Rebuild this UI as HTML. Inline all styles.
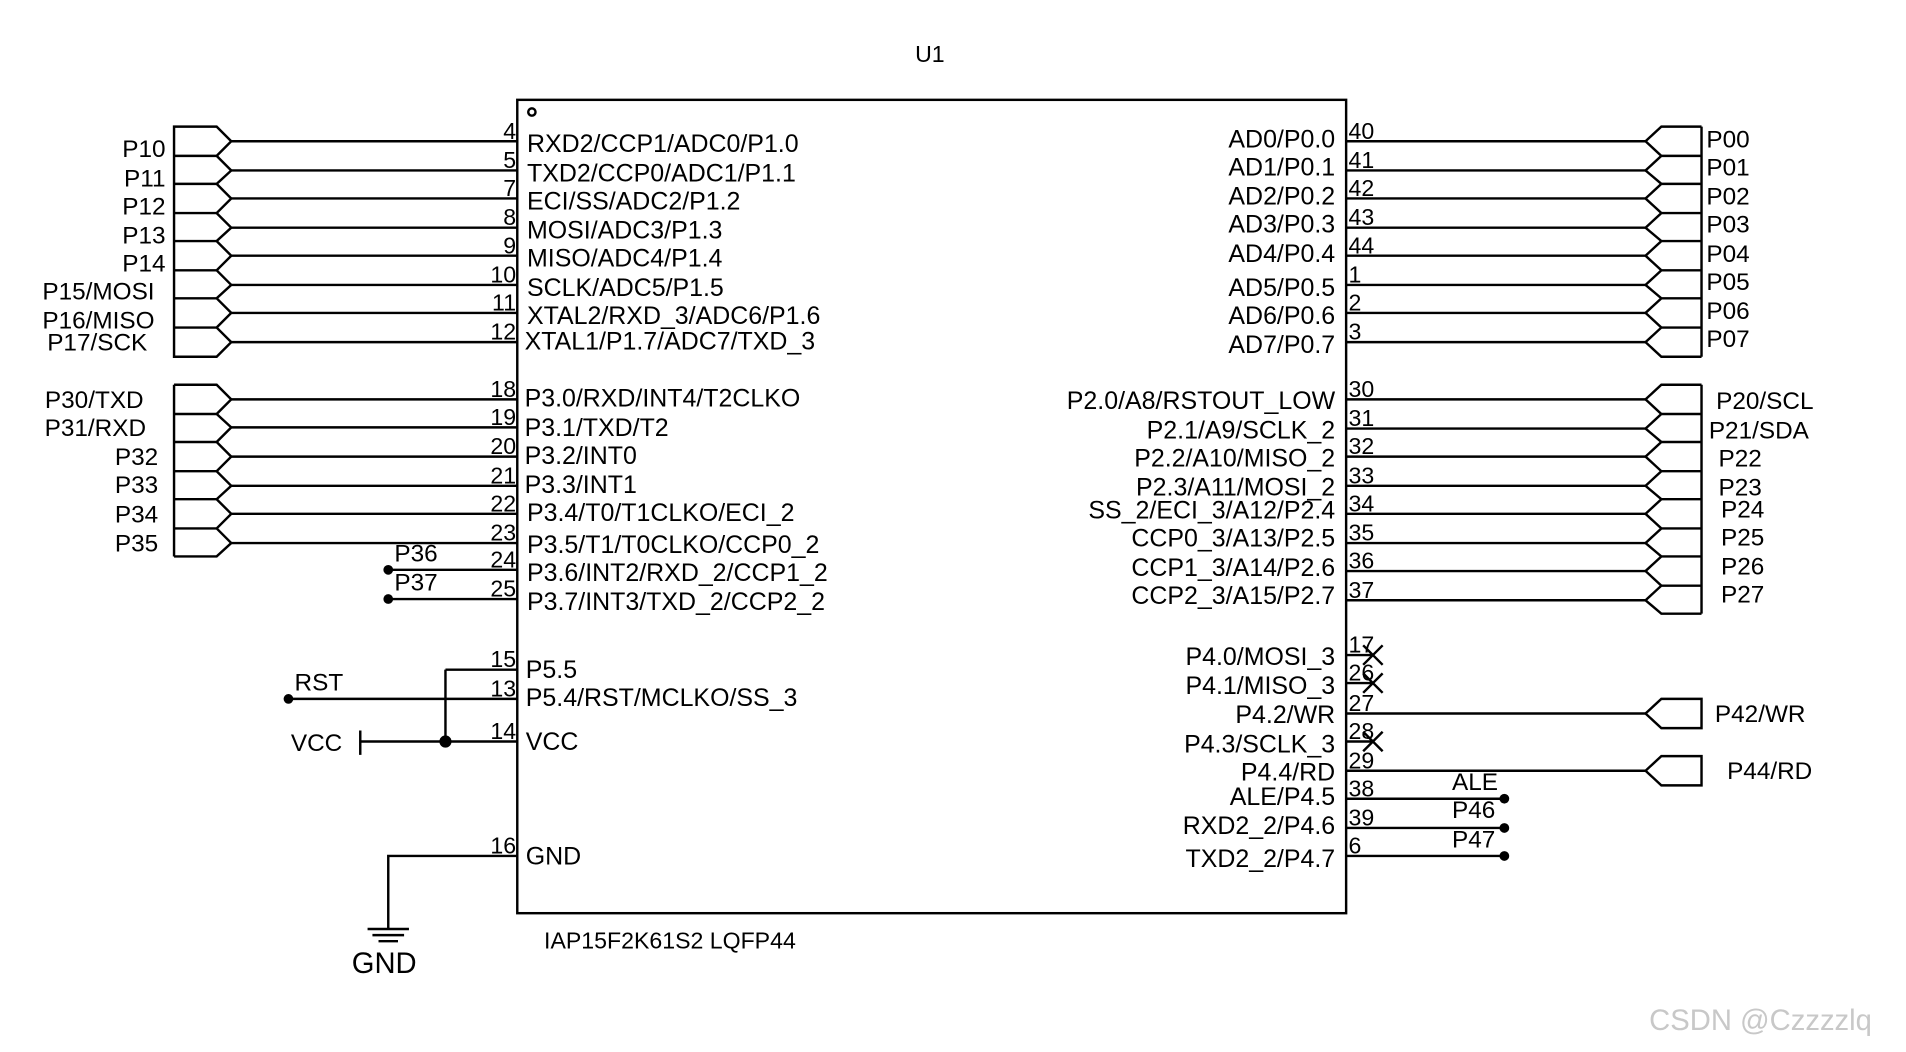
<!DOCTYPE html>
<html><head><meta charset="utf-8"><style>html,body{margin:0;padding:0;background:#fff}svg{display:block}text{font-family:"Liberation Sans",Arial,sans-serif;fill:#000}</style></head>
<body>
<svg width="1906" height="1052" viewBox="0 0 1566 864" preserveAspectRatio="none" xmlns="http://www.w3.org/2000/svg">
<g stroke="#000" stroke-width="2" fill="none">
<rect x="425" y="82" width="681" height="668"/>
<circle cx="437" cy="92" r="3"/>
<path d="M143,104 H178 L190,116 L178,128 H143 Z M143,128 H178 L190,140 L178,151 H143 M143,151 H178 L190,163 L178,175 H143 M143,175 H178 L190,187 L178,198 H143 M143,198 H178 L190,210 L178,222 H143 M143,222 H178 L190,234 L178,245 H143 M143,245 H178 L190,257 L178,269 H143 M143,269 H178 L190,281 L178,293 H143 Z M143,104 V293"/>
<path d="M190,116 H425 M190,140 H425 M190,163 H425 M190,187 H425 M190,210 H425 M190,234 H425 M190,257 H425 M190,281 H425"/>
<path d="M143,316 H178 L190,328 L178,340 H143 M143,340 H178 L190,351 L178,363 H143 M143,363 H178 L190,375 L178,387 H143 M143,387 H178 L190,399 L178,410 H143 M143,410 H178 L190,422 L178,434 H143 M143,434 H178 L190,446 L178,457 H143 M143,316 V457"/>
<path d="M190,328 H425 M190,351 H425 M190,375 H425 M190,399 H425 M190,422 H425 M190,446 H425 M319,468 H425 M319,492 H425"/>
<path d="M366,550 H425 M366,550 V609 M237,574 H425 M296,609 H425 M296,600 V620"/>
<path d="M425,703 H319 V763 M302,763 H336 M306,768 H332 M311,773 H327"/>
<path d="M1398,104 H1365 L1352,116 L1365,128 H1398 M1398,128 H1365 L1352,140 L1365,151 H1398 M1398,151 H1365 L1352,163 L1365,175 H1398 M1398,175 H1365 L1352,187 L1365,198 H1398 M1398,198 H1365 L1352,210 L1365,222 H1398 M1398,222 H1365 L1352,234 L1365,245 H1398 M1398,245 H1365 L1352,257 L1365,269 H1398 M1398,269 H1365 L1352,281 L1365,293 H1398 M1398,104 V293"/>
<path d="M1106,116 H1352 M1106,140 H1352 M1106,163 H1352 M1106,187 H1352 M1106,210 H1352 M1106,234 H1352 M1106,257 H1352 M1106,281 H1352"/>
<path d="M1398,316 H1365 L1352,328 L1365,340 H1398 M1398,340 H1365 L1352,352 L1365,363 H1398 M1398,363 H1365 L1352,375 L1365,387 H1398 M1398,387 H1365 L1352,399 L1365,410 H1398 M1398,410 H1365 L1352,422 L1365,434 H1398 M1398,434 H1365 L1352,446 L1365,457 H1398 M1398,457 H1365 L1352,469 L1365,481 H1398 M1398,481 H1365 L1352,493 L1365,504 H1398 M1398,316 V504"/>
<path d="M1106,328 H1352 M1106,352 H1352 M1106,375 H1352 M1106,399 H1352 M1106,422 H1352 M1106,446 H1352 M1106,469 H1352 M1106,493 H1352"/>
<path d="M1106,538 H1128 M1120,530 L1136,546 M1136,530 L1120,546 M1106,561 H1128 M1120,553 L1136,569 M1136,553 L1120,569 M1106,609 H1128 M1120,601 L1136,617 M1136,601 L1120,617"/>
<path d="M1106,586 H1352 M1106,633 H1352"/>
<path d="M1352,586 L1365,574 H1398 V598 H1365 Z"/>
<path d="M1352,633 L1365,621 H1398 V645 H1365 Z"/>
<path d="M1106,656 H1236 M1106,680 H1236 M1106,703 H1236"/>
</g>
<g fill="#000">
<circle cx="319" cy="468" r="4"/><circle cx="319" cy="492" r="4"/>
<circle cx="237" cy="574" r="4"/><circle cx="366" cy="609" r="5"/>
<circle cx="1236" cy="656" r="4"/><circle cx="1236" cy="680" r="4"/><circle cx="1236" cy="703" r="4"/>
</g>
<text x="764" y="51" font-size="19" text-anchor="middle">U1</text>
<g font-size="20" text-anchor="end">
<text x="136" y="129">P10</text><text x="136" y="153">P11</text><text x="136" y="176">P12</text><text x="136" y="200">P13</text><text x="136" y="223">P14</text>
<text x="127" y="246">P15/MOSI</text><text x="127" y="270">P16/MISO</text><text x="121" y="288">P17/SCK</text>
<text x="118" y="335">P30/TXD</text><text x="120" y="358">P31/RXD</text><text x="130" y="382">P32</text><text x="130" y="405">P33</text><text x="130" y="429">P34</text><text x="130" y="453">P35</text>
</g>
<g font-size="20">
<text x="324" y="461">P36</text><text x="324" y="485">P37</text>
<text x="242" y="567">RST</text><text x="239" y="617">VCC</text>
<text x="289" y="799" font-size="24">GND</text>
<text x="447" y="779" font-size="19">IAP15F2K61S2 LQFP44</text>
</g>
<g font-size="19" text-anchor="end">
<text x="424" y="114">4</text><text x="424" y="138">5</text><text x="424" y="161">7</text><text x="424" y="185">8</text><text x="424" y="208">9</text><text x="424" y="232">10</text><text x="424" y="255">11</text><text x="424" y="279">12</text>
<text x="424" y="326">18</text><text x="424" y="349">19</text><text x="424" y="373">20</text><text x="424" y="397">21</text><text x="424" y="420">22</text><text x="424" y="444">23</text><text x="424" y="466">24</text><text x="424" y="490">25</text>
<text x="424" y="548">15</text><text x="424" y="572">13</text><text x="424" y="607">14</text><text x="424" y="701">16</text>
</g>
<g font-size="20.5">
<text x="433" y="125">RXD2/CCP1/ADC0/P1.0</text><text x="433" y="149">TXD2/CCP0/ADC1/P1.1</text><text x="433" y="172">ECI/SS/ADC2/P1.2</text><text x="433" y="196">MOSI/ADC3/P1.3</text><text x="433" y="219">MISO/ADC4/P1.4</text><text x="433" y="243">SCLK/ADC5/P1.5</text><text x="433" y="266">XTAL2/RXD_3/ADC6/P1.6</text><text x="431" y="287">XTAL1/P1.7/ADC7/TXD_3</text>
<text x="431" y="334">P3.0/RXD/INT4/T2CLKO</text><text x="431" y="358">P3.1/TXD/T2</text><text x="431" y="381">P3.2/INT0</text><text x="431" y="405">P3.3/INT1</text><text x="433" y="428">P3.4/T0/T1CLKO/ECI_2</text><text x="433" y="454">P3.5/T1/T0CLKO/CCP0_2</text><text x="433" y="477">P3.6/INT2/RXD_2/CCP1_2</text><text x="433" y="501">P3.7/INT3/TXD_2/CCP2_2</text>
<text x="432" y="557">P5.5</text><text x="432" y="580">P5.4/RST/MCLKO/SS_3</text><text x="432" y="616">VCC</text><text x="432" y="710">GND</text>
</g>
<g font-size="20.5" text-anchor="end">
<text x="1097" y="121">AD0/P0.0</text><text x="1097" y="144">AD1/P0.1</text><text x="1097" y="168">AD2/P0.2</text><text x="1097" y="191">AD3/P0.3</text><text x="1097" y="215">AD4/P0.4</text><text x="1097" y="243">AD5/P0.5</text><text x="1097" y="266">AD6/P0.6</text><text x="1097" y="290">AD7/P0.7</text>
<text x="1097" y="336">P2.0/A8/RSTOUT_LOW</text><text x="1097" y="360">P2.1/A9/SCLK_2</text><text x="1097" y="383">P2.2/A10/MISO_2</text><text x="1097" y="407">P2.3/A11/MOSI_2</text><text x="1097" y="426">SS_2/ECI_3/A12/P2.4</text><text x="1097" y="449">CCP0_3/A13/P2.5</text><text x="1097" y="473">CCP1_3/A14/P2.6</text><text x="1097" y="496">CCP2_3/A15/P2.7</text>
<text x="1097" y="546">P4.0/MOSI_3</text><text x="1097" y="570">P4.1/MISO_3</text><text x="1097" y="594">P4.2/WR</text><text x="1097" y="618">P4.3/SCLK_3</text><text x="1097" y="641">P4.4/RD</text><text x="1097" y="661">ALE/P4.5</text><text x="1097" y="685">RXD2_2/P4.6</text><text x="1097" y="712">TXD2_2/P4.7</text>
</g>
<g font-size="19">
<text x="1108" y="114">40</text><text x="1108" y="138">41</text><text x="1108" y="161">42</text><text x="1108" y="185">43</text><text x="1108" y="208">44</text><text x="1108" y="232">1</text><text x="1108" y="255">2</text><text x="1108" y="279">3</text>
<text x="1108" y="326">30</text><text x="1108" y="350">31</text><text x="1108" y="373">32</text><text x="1108" y="397">33</text><text x="1108" y="420">34</text><text x="1108" y="444">35</text><text x="1108" y="467">36</text><text x="1108" y="491">37</text>
<text x="1108" y="536">17</text><text x="1108" y="559">26</text><text x="1108" y="584">27</text><text x="1108" y="607">28</text><text x="1108" y="631">29</text><text x="1108" y="654">38</text><text x="1108" y="678">39</text><text x="1108" y="701">6</text>
</g>
<g font-size="20">
<text x="1402" y="121">P00</text><text x="1402" y="144">P01</text><text x="1402" y="168">P02</text><text x="1402" y="191">P03</text><text x="1402" y="215">P04</text><text x="1402" y="238">P05</text><text x="1402" y="262">P06</text><text x="1402" y="285">P07</text>
<text x="1410" y="336">P20/SCL</text><text x="1404" y="360">P21/SDA</text><text x="1412" y="383">P22</text><text x="1412" y="407">P23</text><text x="1414" y="425">P24</text><text x="1414" y="448">P25</text><text x="1414" y="472">P26</text><text x="1414" y="495">P27</text>
<text x="1409" y="593">P42/WR</text><text x="1419" y="640">P44/RD</text>
<text x="1193" y="649">ALE</text><text x="1193" y="672">P46</text><text x="1193" y="696">P47</text>
</g>
<text x="1355" y="846" font-size="24" style="fill:#c8c8c8">CSDN @Czzzzlq</text>
</svg>
</body></html>
